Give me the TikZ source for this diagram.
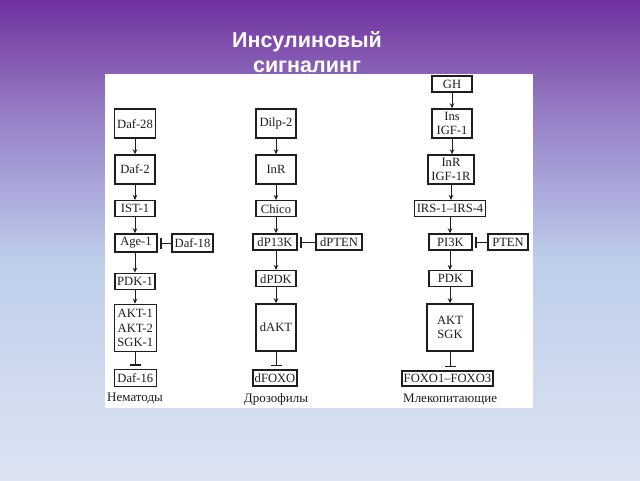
\documentclass[tikz,border=0pt]{standalone}
\usepackage{fontspec}
\setmainfont{Liberation Serif}
\newfontfamily\titlefont{Liberation Sans}
\usetikzlibrary{arrows.meta}
\definecolor{g0}{RGB}{112,48,160}
\definecolor{g1}{RGB}{146,118,192}
\definecolor{g2}{RGB}{172,174,222}
\definecolor{g3}{RGB}{190,206,234}
\definecolor{g4}{RGB}{220,228,242}
\definecolor{ink}{RGB}{30,30,30}
\tikzset{
  bx/.style={draw=ink, line width=1.5pt, inner sep=0pt, align=center, text=ink,
    font=\fontsize{12.6}{14.3}\selectfont},
  act/.style={draw=ink, line width=1pt, -{Stealth[length=5pt,width=4.5pt]}},
  inh/.style={draw=ink, line width=1pt, -{Bar[width=11pt,line width=1.3pt]}},
  lbl/.style={text=ink, font=\fontsize{13}{14}\selectfont, inner sep=0pt},
  ttl/.style={text=white, font=\titlefont\bfseries\fontsize{21.5}{26}\selectfont, inner sep=0pt}
}
\begin{document}
\begin{tikzpicture}[x=1pt,y=-1pt]
\useasboundingbox (0,0) rectangle (640,480);
% background gradient
\shade[top color=g0, bottom color=g1] (0,0) rectangle (640,100.5);
\shade[top color=g1, bottom color=g2] (0,100) rectangle (640,200.5);
\shade[top color=g2, bottom color=g3] (0,200) rectangle (640,260.5);
\shade[top color=g3, bottom color=g4] (0,260) rectangle (640,480);
% title
\node[ttl, anchor=base] (t1) at (307,47) {Инсулиновый};
\node[ttl, anchor=base] (t2) at (307,72) {сигналинг};
% panel
\fill[white] (105,74) rectangle (533,408);
% column 1: nematodes
\node[bx, minimum width=41pt, minimum height=29pt] (daf28) at (135,123.7) {Daf-28};
\node[bx, minimum width=40pt, minimum height=29pt] (daf2) at (135,169.5) {Daf-2};
\node[bx, minimum width=40pt, minimum height=16pt] (ist1) at (135,208.7) {IST-1};
\node[bx, minimum width=42pt, minimum height=18pt] (age1) at (136,243) {Age-1};
\node[bx, minimum width=41pt, minimum height=18pt] (daf18) at (192.5,243) {Daf-18};
\node[bx, minimum width=40pt, minimum height=16pt] (pdk1) at (135,281.3) {PDK-1};
\node[bx, minimum width=42pt, minimum height=47pt] (akt1) at (135.3,328) {AKT-1\\AKT-2\\SGK-1};
\node[bx, minimum width=42pt, minimum height=17pt] (daf16) at (135.3,377.8) {Daf-16};
\node[lbl, anchor=base west] (nem) at (107,401) {Нематоды};
\draw[act] (daf28.south) -- (daf28.south |- daf2.north);
\draw[act] (daf2.south) -- (daf2.south |- ist1.north);
\draw[act] (ist1.south) -- (ist1.south |- age1.north);
\draw[act] (ist1.south |- age1.south) -- (ist1.south |- pdk1.north);
\draw[act] (pdk1.south) -- (pdk1.south |- akt1.north);
\draw[inh] (daf18.west) -- ([xshift=2.5pt]age1.east);
\draw[inh] (akt1.south) -- ([yshift=3pt]akt1.south |- daf16.north);
% column 2: drosophila
\node[bx, minimum width=40pt, minimum height=29pt] (dilp2) at (276,123.5) {Dilp-2};
\node[bx, minimum width=40pt, minimum height=29pt] (inr) at (276,169.5) {InR};
\node[bx, minimum width=40pt, minimum height=16pt] (chico) at (276,208.7) {Chico};
\node[bx, minimum width=44pt, minimum height=16pt] (dpi3k) at (275,242) {dP13K};
\node[bx, minimum width=46pt, minimum height=16pt] (dpten) at (339,242) {dPTEN};
\node[bx, minimum width=40pt, minimum height=16pt] (dpdk) at (276,278.7) {dPDK};
\node[bx, minimum width=40pt, minimum height=47pt] (dakt) at (276,327.5) {dAKT};
\node[bx, minimum width=44pt, minimum height=16pt] (dfoxo) at (275,378) {dFOXO};
\node[lbl, anchor=base] (dro) at (276,402) {Дрозофилы};
\draw[act] (dilp2.south) -- (dilp2.south |- inr.north);
\draw[act] (inr.south) -- (inr.south |- chico.north);
\draw[act] (chico.south) -- (chico.south |- dpi3k.north);
\draw[act] (chico.south |- dpi3k.south) -- (chico.south |- dpdk.north);
\draw[act] (dpdk.south) -- (dpdk.south |- dakt.north);
\draw[inh] (dpten.west) -- ([xshift=2.5pt]dpi3k.east);
\draw[inh] (dakt.south) -- ([yshift=3pt]dakt.south |- dfoxo.north);
% column 3: mammals
\node[bx, minimum width=40pt, minimum height=16pt] (gh) at (452,84) {GH};
\node[bx, minimum width=40pt, minimum height=29pt] (ins) at (452,123.5) {Ins\\IGF-1};
\node[bx, minimum width=46pt, minimum height=29pt] (inrm) at (451,169.5) {InR\\IGF-1R};
\node[bx, minimum width=71pt, minimum height=16pt] (irs) at (450,208.7) {IRS-1--IRS-4};
\node[bx, minimum width=43pt, minimum height=16pt] (pi3k) at (450.5,242) {PI3K};
\node[bx, minimum width=40pt, minimum height=16pt] (pten) at (508,242) {PTEN};
\node[bx, minimum width=43pt, minimum height=16pt] (pdk) at (450.5,278.7) {PDK};
\node[bx, minimum width=46pt, minimum height=47pt] (akt) at (450,327.5) {AKT\\SGK};
\node[bx, minimum width=91pt, minimum height=15pt] (foxo) at (447.5,378.7) {FOXO1--FOXO3};
\node[lbl, anchor=base west] (mam) at (403,402) {Млекопитающие};
\draw[act] (gh.south) -- (gh.south |- ins.north);
\draw[act] (ins.south) -- (ins.south |- inrm.north);
\draw[act] (inrm.south) -- (inrm.south |- irs.north);
\draw[act] (irs.south) -- (irs.south |- pi3k.north);
\draw[act] (irs.south |- pi3k.south) -- (irs.south |- pdk.north);
\draw[act] (irs.south |- pdk.south) -- (irs.south |- akt.north);
\draw[inh] (pten.west) -- ([xshift=2.5pt]pi3k.east);
\draw[inh] (akt.south) -- ([yshift=3pt]akt.south |- foxo.north);
\end{tikzpicture}
\end{document}
